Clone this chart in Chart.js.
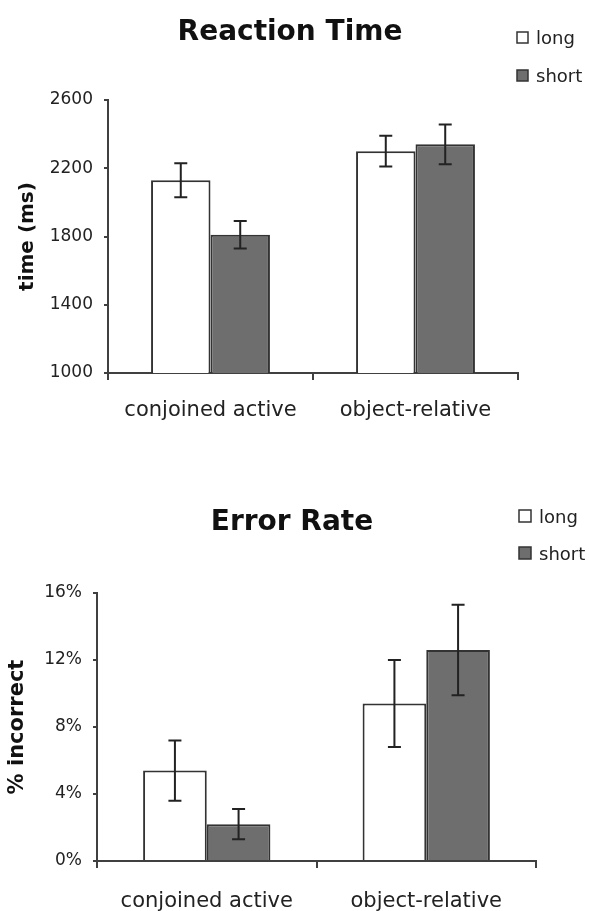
<!DOCTYPE html>
<html>
<head>
<meta charset="utf-8">
<script src="https://cdn.jsdelivr.net/npm/chart.js@4.4.0/dist/chart.umd.min.js"></script>
<style>
  html, body { margin: 0; padding: 0; background: #fff; }
  body { width: 589px; height: 911px; position: relative; overflow: hidden; }
  canvas { position: absolute; left: 0; }
  #rt { top: 0; }
  #er { top: 460px; }
</style>
</head>
<body>
<canvas id="rt" width="589" height="440"></canvas>
<canvas id="er" width="589" height="451"></canvas>
<script>
// data
var categories = ['conjoined active', 'object-relative'];
var seriesNames = ['long', 'short'];

var rtLong = [2130, 2300];
var rtShort = [1810, 2340];
var rtLongErr = [100, 90];
var rtShortErr = [81, 117];
var rtTicks = [1000, 1400, 1800, 2200, 2600];

var errLong = [5.4, 9.4];
var errShort = [2.2, 12.6];
var errLongErr = [1.8, 2.6];
var errShortErr = [0.9, 2.7];
var errTicks = [0, 4, 8, 12, 16];

var axisColor = '#404040';
var textColor = '#222';

// error bars on top of each bar
var errorBars = {
  id: 'errorBars',
  afterDatasetsDraw: function(chart) {
    var ctx = chart.ctx;
    var y = chart.scales.y;
    ctx.save();
    ctx.strokeStyle = '#222';
    ctx.lineWidth = 2;
    chart.data.datasets.forEach(function(ds, i) {
      var meta = chart.getDatasetMeta(i);
      meta.data.forEach(function(bar, j) {
        var v = ds.data[j], e = ds.errors[j];
        var hi = y.getPixelForValue(v + e);
        var lo = y.getPixelForValue(v - e);
        var x = bar.x;
        ctx.beginPath();
        ctx.moveTo(x, hi); ctx.lineTo(x, lo);
        ctx.moveTo(x - 6.5, hi); ctx.lineTo(x + 6.5, hi);
        ctx.moveTo(x - 6.5, lo); ctx.lineTo(x + 6.5, lo);
        ctx.stroke();
      });
    });
    ctx.restore();
  }
};

// title and small legend at the upper right
var decor = {
  id: 'decor',
  afterDraw: function(chart, args, opts) {
    var ctx = chart.ctx;
    ctx.save();
    ctx.fillStyle = '#111';
    ctx.font = 'bold 28px "DejaVu Sans"';
    ctx.textAlign = 'center';
    ctx.textBaseline = 'alphabetic';
    ctx.fillText(opts.title, opts.titleX, opts.titleY);

    ctx.font = '18px "DejaVu Sans"';
    ctx.textAlign = 'left';
    chart.data.datasets.forEach(function(ds, i) {
      var top = opts.legendY[i];
      ctx.fillStyle = ds.backgroundColor;
      ctx.fillRect(opts.legendX, top, opts.box, opts.box);
      ctx.strokeStyle = '#333';
      ctx.lineWidth = 1.5;
      ctx.strokeRect(opts.legendX, top, opts.box, opts.box);
      ctx.fillStyle = textColor;
      ctx.fillText(ds.label, opts.legendX + opts.box + 8, top + opts.box + 1);
    });
    ctx.restore();
  }
};

function buildChart(id, o) {
  return new Chart(document.getElementById(id), {
    type: 'bar',
    data: {
      labels: categories,
      datasets: [
        { label: seriesNames[0], data: o.long, errors: o.longErr, backgroundColor: '#ffffff',
          borderColor: '#333', borderWidth: 2, categoryPercentage: 0.58, barPercentage: 1 },
        { label: seriesNames[1], data: o.short, errors: o.shortErr, backgroundColor: '#6e6e6e',
          borderColor: '#333', borderWidth: 2, categoryPercentage: 0.58, barPercentage: 1 }
      ]
    },
    options: {
      responsive: false,
      animation: false,
      devicePixelRatio: 1,
      layout: { padding: { top: o.top, right: o.right, left: 0, bottom: 0 } },
      plugins: {
        legend: { display: false },
        tooltip: { enabled: false },
        decor: o.decor
      },
      scales: {
        x: {
          grid: { offset: true, drawOnChartArea: false, tickLength: 7, color: axisColor, lineWidth: 2 },
          border: { color: axisColor, width: 2 },
          ticks: { font: { family: 'DejaVu Sans', size: 21 }, color: textColor, padding: o.xPad,
                   maxRotation: 0, autoSkip: false },
          afterFit: function(s) { s.height = o.xHeight; }
        },
        y: {
          min: o.ticks[0],
          max: o.ticks[o.ticks.length - 1],
          afterBuildTicks: function(s) { s.ticks = o.ticks.map(function(v) { return { value: v }; }); },
          grid: { drawOnChartArea: false, tickLength: 4, color: axisColor, lineWidth: 2 },
          border: { color: axisColor, width: 2 },
          ticks: { font: { family: 'DejaVu Sans', size: 17 }, color: textColor, padding: 11,
                   callback: o.fmt },
          title: { display: true, text: o.yTitle, color: '#111',
                   font: { family: 'DejaVu Sans', weight: 'bold', size: o.yTitleSize },
                   padding: { top: o.yTitlePad, bottom: 0 } },
          afterFit: function(s) { s.width = o.yWidth; }
        }
      }
    },
    plugins: [errorBars, decor]
  });
}

buildChart('rt', {
  long: rtLong, short: rtShort, longErr: rtLongErr, shortErr: rtShortErr, ticks: rtTicks,
  fmt: function(v) { return v; },
  top: 100, right: 71, yWidth: 108, xHeight: 67, xPad: 18,
  yTitle: 'time (ms)', yTitleSize: 20, yTitlePad: 16,
  decor: { title: 'Reaction Time', titleX: 290, titleY: 39.5,
           legendX: 517, legendY: [32, 70], box: 11 }
});

buildChart('er', {
  long: errLong, short: errShort, longErr: errLongErr, shortErr: errShortErr, ticks: errTicks,
  fmt: function(v) { return v + '%'; },
  top: 133, right: 53, yWidth: 97, xHeight: 50, xPad: 21,
  yTitle: '% incorrect', yTitleSize: 21, yTitlePad: 5,
  decor: { title: 'Error Rate', titleX: 292, titleY: 70,
           legendX: 519, legendY: [50, 87], box: 12 }
});
</script>
</body>
</html>
